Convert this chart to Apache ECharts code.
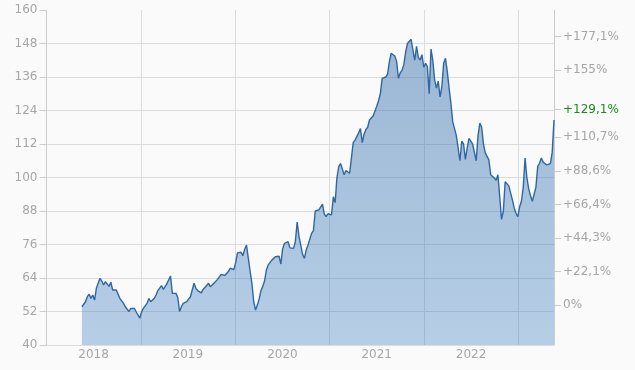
<!DOCTYPE html>
<html>
<head>
<meta charset="utf-8">
<script src="https://cdn.jsdelivr.net/npm/echarts@6/dist/echarts.min.js"></script>
<style>
html,body{margin:0;padding:0;background:#fafafa;}
#chart{width:635px;height:370px;}
</style>
</head>
<body>
<div id="chart"></div>
<script>
// ---- data ----
const startDate = '2018-05-18';     // first weekly observation
const stepDays = 7;                 // weekly sampling
const prices = [
  53.7,53.7,55.5,57.3,58.2,56.7,57.9,56.1,60.3,60.9,
  63.9,62.9,61.5,62.7,62.1,61.0,62.5,59.7,60.3,59.7,
  59.5,56.7,55.8,54.9,53.7,54.3,52.0,53.1,53.7,53.1,
  51.9,52.5,49.6,51.9,53.1,54.0,54.9,56.7,55.5,56.1,
  56.7,57.9,59.5,59.1,61.3,59.9,60.9,62.0,62.5,64.7,
  58.5,59.1,58.5,57.0,52.0,53.7,54.9,55.5,55.5,56.5,
  57.3,58.0,62.1,60.3,59.5,59.1,58.7,59.9,59.7,61.3,
  62.1,60.9,60.3,62.1,62.7,63.5,64.1,65.3,65.3,64.9,
  64.5,66.3,67.5,67.2,67.0,69.5,73.0,72.5,73.2,72.0,
  74.3,75.8,71.0,66.5,62.0,55.5,52.5,54.3,56.5,59.5,
  61.0,63.0,66.9,68.7,68.5,70.4,71.0,71.6,72.0,71.8,
  69.0,74.5,76.4,76.0,77.0,74.8,75.0,74.6,77.0,84.0,
  79.0,75.8,72.5,71.0,74.0,75.8,76.0,80.0,81.0,88.0,
  87.8,88.4,89.0,90.5,87.0,86.0,87.0,87.2,86.6,93.1,
  91.0,100.0,103.9,105.0,103.0,101.0,102.5,103.2,101.5,102.0,
  112.5,113.4,114.0,116.0,117.5,112.5,115.5,117.2,118.0,120.6,
  121.2,122.0,122.4,125.5,127.5,130.0,135.5,136.0,136.0,137.0,
  141.5,144.5,144.0,143.5,141.5,135.5,137.5,138.5,140.5,145.0,
  148.0,147.5,149.5,145.7,142.0,147.0,143.0,142.1,144.0,139.5,
  140.9,139.7,130.0,146.0,142.0,135.0,132.0,134.5,128.9,132.5,
  140.9,142.7,138.0,132.0,126.6,120.0,120.5,115.0,115.5,106.0,
  113.0,112.0,106.5,110.5,114.0,113.0,112.0,111.5,106.0,115.0,
  119.5,118.0,112.0,108.8,109.5,106.3,101.0,100.5,99.8,99.0,
  101.0,101.0,85.0,88.0,98.5,97.8,97.0,94.5,92.0,89.0,
  87.2,86.0,89.5,91.5,96.5,107.0,100.0,96.0,93.5,91.5,
  91.0,96.5,104.0,105.1,107.0,105.5,105.0,104.5,104.5,105.0,
  109.0,120.6
];
const yearLabels = ['2018','2019','2020','2021','2022'];
const axisStart = '2018-01-01';
const axisEnd = '2023-05-19';
const priceMin = 40, priceMax = 160, priceStep = 12;
const baseValue = 54.3;                       // value that equals 0 %
const pctTicks = [0, 22.1, 44.3, 66.4, 88.6, 110.7, 155, 177.1];
const currentPct = 129.1;

// ---- build ----
const DAY = 86400000;
const ts = s => new Date(s + 'T00:00:00').getTime();
const t0 = ts(startDate);
const seriesData = prices.map((v, i) => [t0 + i * stepDays * DAY, v]);
const midYears = yearLabels.map(y => ts(y + '-07-02'));
const pctMin = (priceMin / baseValue - 1) * 100;
const pctMax = (priceMax / baseValue - 1) * 100;
const pctAll = pctTicks.concat([currentPct]).sort((a, b) => a - b);

const labelColor = '#a6a6a6';
const lineGray = '#cccccc';
const gridGray = '#dcdcdc';
const font = 'DejaVu Sans';

const chart = echarts.init(document.getElementById('chart'), null, {renderer: 'canvas'});
chart.setOption({
  backgroundColor: '#fafafa',
  animation: false,
  grid: {left: 46.5, right: 81, top: 10, bottom: 25, containLabel: false},
  xAxis: [
    {
      type: 'time',
      min: ts(axisStart),
      max: ts(axisEnd),
      minInterval: 365 * DAY,
      maxInterval: 366 * DAY,
      axisLine: {show: false},
      axisTick: {show: false},
      axisLabel: {show: false},
      splitLine: {show: true, lineStyle: {color: gridGray, width: 1}}
    },
    {
      type: 'value',
      position: 'bottom',
      min: ts(axisStart),
      max: ts(axisEnd),
      axisLine: {show: false},
      axisTick: {show: false},
      splitLine: {show: false},
      axisLabel: {
        customValues: midYears,
        formatter: v => String(new Date(v).getFullYear()),
        color: labelColor, fontSize: 12, fontFamily: font, margin: 4
      }
    }
  ],
  yAxis: [
    {
      type: 'value', position: 'left',
      min: priceMin, max: priceMax, interval: priceStep,
      axisLine: {show: true, lineStyle: {color: lineGray}},
      axisTick: {show: true, length: 7, lineStyle: {color: lineGray}},
      axisLabel: {color: labelColor, fontSize: 12, fontFamily: font, margin: 9},
      splitLine: {show: true, showMaxLine: false, lineStyle: {color: gridGray}}
    },
    {
      type: 'value', position: 'right',
      min: pctMin, max: pctMax,
      axisLine: {show: true, lineStyle: {color: lineGray}},
      axisTick: {show: true, length: 7, customValues: pctAll, lineStyle: {color: lineGray}},
      axisLabel: {
        customValues: pctAll,
        fontSize: 12, fontFamily: font, margin: 9,
        formatter: v => (Math.abs(v) < 1e-9 ? '0%' : '+' + String(v).replace('.', ',') + '%'),
        color: v => (Math.abs(v - currentPct) < 1e-6 ? '#1a8c1a' : labelColor)
      },
      splitLine: {show: false}
    }
  ],
  series: [{
    type: 'line',
    data: seriesData,
    xAxisIndex: 0,
    yAxisIndex: 0,
    showSymbol: false,
    symbol: 'none',
    lineStyle: {color: '#2f67a3', width: 1.4},
    areaStyle: {
      opacity: 1,
      color: new echarts.graphic.LinearGradient(0, 0, 0, 1, [
        {offset: 0, color: 'rgba(40,100,165,0.45)'},
        {offset: 1, color: 'rgba(50,120,190,0.34)'}
      ])
    }
  }]
});
</script>
</body>
</html>
